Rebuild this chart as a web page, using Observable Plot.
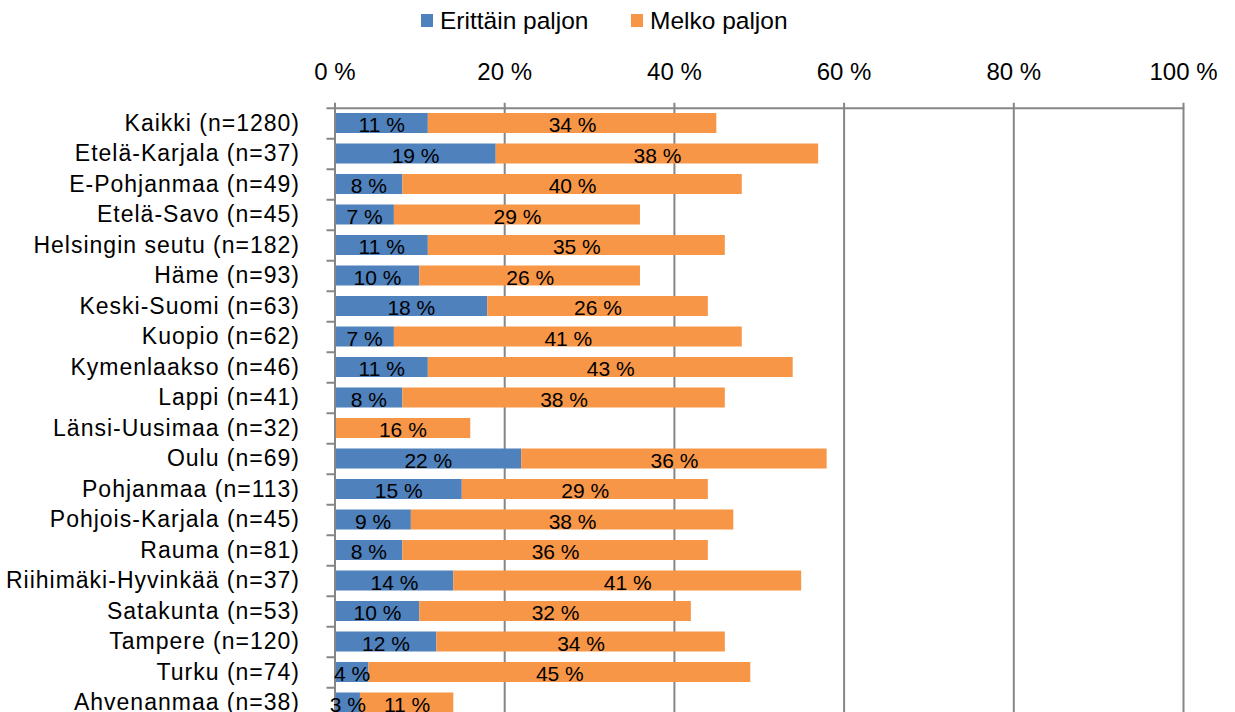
<!DOCTYPE html>
<html>
<head>
<meta charset="utf-8">
<script src="https://cdn.jsdelivr.net/npm/d3@7"></script>
<script src="https://cdn.jsdelivr.net/npm/@observablehq/plot@0.6"></script>
<style>
  html, body { margin: 0; padding: 0; background: #fff; overflow: hidden; }
  body { position: relative; width: 1235px; height: 712px; font-family: "Liberation Sans", Arial, sans-serif; }
  #legend { position: absolute; left: 0; top: 0; width: 1235px; height: 40px; }
  .item { position: absolute; top: 0; height: 40px; display: flex; align-items: center; font-size: 24.5px; color: #000; }
  .sw { width: 12px; height: 13px; margin-right: 7px; margin-top: 0px; }
  .item span.t { line-height: 40px; margin-top: 2px; }
  #chart { position: absolute; left: 0; top: 40px; }
  #chart svg { display: block; }
  g[aria-label="y-axis tick label"] { letter-spacing: 1px; }
</style>
</head>
<body>
<div id="legend"></div>
<div id="chart"></div>
<script>
const regions = [
  "Kaikki (n=1280)", "Etelä-Karjala (n=37)", "E-Pohjanmaa (n=49)", "Etelä-Savo (n=45)",
  "Helsingin seutu (n=182)", "Häme (n=93)", "Keski-Suomi (n=63)", "Kuopio (n=62)",
  "Kymenlaakso (n=46)", "Lappi (n=41)", "Länsi-Uusimaa (n=32)", "Oulu (n=69)",
  "Pohjanmaa (n=113)", "Pohjois-Karjala (n=45)", "Rauma (n=81)", "Riihimäki-Hyvinkää (n=37)",
  "Satakunta (n=53)", "Tampere (n=120)", "Turku (n=74)", "Ahvenanmaa (n=38)"
];
const erittainPaljon = [11, 19, 8, 7, 11, 10, 18, 7, 11, 8, 0, 22, 15, 9, 8, 14, 10, 12, 4, 3];
const melkoPaljon    = [34, 38, 40, 29, 35, 26, 26, 41, 43, 38, 16, 36, 29, 38, 36, 41, 32, 34, 45, 11];
const seriesNames = ["Erittäin paljon", "Melko paljon"];
const seriesColors = ["#4F81BD", "#F79646"];
const xTicks = [0, 20, 40, 60, 80, 100];

// legend
const legend = document.getElementById("legend");
const legendX = [421, 631];
seriesNames.forEach((name, i) => {
  const it = document.createElement("div");
  it.className = "item";
  it.style.left = legendX[i] + "px";
  const sw = document.createElement("div");
  sw.className = "sw";
  sw.style.background = seriesColors[i];
  const t = document.createElement("span");
  t.className = "t";
  t.textContent = name;
  it.appendChild(sw); it.appendChild(t);
  legend.appendChild(it);
});

const data = regions.flatMap((r, i) => [
  {region: r, series: seriesNames[0], value: erittainPaljon[i]},
  {region: r, series: seriesNames[1], value: melkoPaljon[i]}
]);
const labels = regions.flatMap((r, i) => {
  const out = [];
  if (erittainPaljon[i] > 0) out.push({region: r, x: erittainPaljon[i] / 2, text: erittainPaljon[i] + " %"});
  if (melkoPaljon[i] > 0) out.push({region: r, x: erittainPaljon[i] + melkoPaljon[i] / 2, text: melkoPaljon[i] + " %"});
  return out;
});

const marginTop = 67.75;
const step = 30.5;
const chart = Plot.plot({
  width: 1235,
  height: marginTop + step * regions.length + 10,
  marginTop,
  marginBottom: 10,
  marginLeft: 334.5,
  marginRight: 52,
  style: {fontFamily: "'Liberation Sans', Arial, sans-serif", color: "#000", background: "#fff"},
  x: {domain: [0, 100], axis: null},
  y: {domain: regions, axis: null, paddingInner: 0.344, paddingOuter: 0.172, round: false},
  color: {domain: seriesNames, range: seriesColors},
  marks: [
    Plot.ruleX(xTicks, {stroke: "#868686", strokeWidth: 2}),
    Plot.axisX({anchor: "top", ticks: xTicks, tickFormat: d => d + " %", tickSize: 6, tickPadding: 22.5,
      fontSize: 24, stroke: "#868686", strokeWidth: 2, strokeOpacity: 1, label: null}),
    Plot.axisY({tickSize: 8, tickFormat: () => "", dy: -step / 2, stroke: "#868686", strokeWidth: 2, strokeOpacity: 1, label: null}),
    Plot.axisY({tickSize: 0, tickPadding: 35, fontSize: 23, label: null}),
    Plot.barX(data, Plot.stackX({x: "value", y: "region", fill: "series"})),
    Plot.ruleY([regions[0]], {dy: -step / 2, stroke: "#868686", strokeWidth: 2}),
    Plot.ruleX([0], {stroke: "#868686", strokeWidth: 2}),
    Plot.text(labels, {x: "x", y: "region", text: "text", fontSize: 21, fill: "#000", dy: 2})
  ]
});
document.getElementById("chart").appendChild(chart);
</script>
</body>
</html>
